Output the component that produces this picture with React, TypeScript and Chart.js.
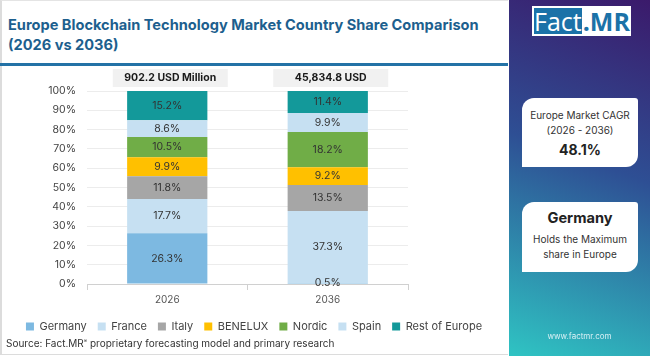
import React, { useEffect, useRef } from "react";
import { Chart, registerables } from "chart.js";

Chart.register(...registerables);

const categories = ["2026", "2036"];
const totals = ["902.2 USD Million", "45,834.8 USD"];
const seriesNames = ["Germany", "France", "Italy", "BENELUX", "Nordic", "Spain", "Rest of Europe"];
const germany = [26.3, 0.5];
const france = [17.7, 37.3];
const italy = [11.8, 13.5];
const benelux = [9.9, 9.2];
const nordic = [10.5, 18.2];
const spain = [8.6, 9.9];
const restOfEurope = [15.2, 11.4];
const yTicks = [0, 10, 20, 30, 40, 50, 60, 70, 80, 90, 100];
const colors = ["#7db9e1", "#c6e0f2", "#a6a6a6", "#ffc000", "#70ad47", "#c6e0f2", "#13999a"];

const FONT = "Inter, 'Open Sans', sans-serif";

const labelPlugin = {
  id: "segLabels",
  afterDatasetsDraw(chart: any) {
    const ctx = chart.ctx;
    ctx.save();
    ctx.font = `10.5px ${FONT}`;
    ctx.fillStyle = "#333";
    ctx.textAlign = "center";
    ctx.textBaseline = "middle";
    chart.data.datasets.forEach((ds: any, di: number) => {
      const meta = chart.getDatasetMeta(di);
      meta.data.forEach((bar: any, i: number) => {
        const v = ds.data[i];
        const y = (bar.y + bar.base) / 2;
        ctx.fillText(`${v}%`, bar.x, y);
      });
    });
    ctx.restore();
  },
};

const headerPlugin = {
  id: "headers",
  afterDraw(chart: any) {
    const ctx = chart.ctx;
    const xs = chart.scales.x;
    const top = chart.chartArea.top;
    ctx.save();
    totals.forEach((t, i) => {
      const cx = xs.getPixelForValue(i) + 3;
      const w = 115;
      ctx.fillStyle = "#f1f1f1";
      ctx.fillRect(cx - w / 2, top - 22, w, 18);
      ctx.fillStyle = "#1a1a1a";
      ctx.font = `bold 10.5px ${FONT}`;
      ctx.textAlign = "center";
      ctx.textBaseline = "middle";
      ctx.fillText(t, cx, top - 13);
    });
    ctx.restore();
  },
};

export default function App() {
  const ref = useRef<HTMLCanvasElement>(null);
  useEffect(() => {
    document.body.style.margin = "0";
    const values = [germany, france, italy, benelux, nordic, spain, restOfEurope];
    const chart = new Chart(ref.current!, {
      type: "bar",
      data: {
        labels: categories,
        datasets: seriesNames.map((n, i) => ({
          label: n,
          data: values[i],
          backgroundColor: colors[i],
          borderWidth: 0,
          barPercentage: 0.5,
          categoryPercentage: 1,
        })),
      },
      options: {
        animation: false,
        responsive: false,
        maintainAspectRatio: false,
        layout: { padding: { top: 25, right: 0, left: 0, bottom: 4 } },
        plugins: {
          legend: {
            position: "bottom",
            labels: {
              boxWidth: 8,
              boxHeight: 8,
              padding: 11,
              color: "#444",
              font: { family: FONT, size: 11 },
            },
          },
          tooltip: { enabled: false },
        },
        scales: {
          x: {
            stacked: true,
            grid: { offset: true, drawOnChartArea: false, tickLength: 6, color: "#d0d0d0" },
            border: { color: "#d0d0d0" },
            ticks: { color: "#555", font: { family: FONT, size: 10 }, padding: 4 },
          },
          y: {
            stacked: true,
            min: 0,
            max: 100,
            afterFit: (s: any) => {
              s.width = 87;
            },
            afterBuildTicks: (s: any) => {
              s.ticks = yTicks.map((v) => ({ value: v }));
            },
            grid: { color: "#ececec", drawTicks: false },
            border: { display: false },
            ticks: {
              autoSkip: false,
              color: "#444",
              font: { family: FONT, size: 10.5 },
              padding: 11,
              callback: (v: any) => `${v}%`,
            },
          },
          yR: {
            position: "right",
            display: true,
            afterFit: (s: any) => {
              s.width = 100;
            },
            grid: { display: false },
            border: { display: false },
            ticks: { display: false },
          },
        },
      },
      plugins: [labelPlugin, headerPlugin],
    });
    return () => chart.destroy();
  }, []);

  const card: React.CSSProperties = {
    position: "absolute",
    left: 522,
    width: 116,
    background: "#fff",
    borderRadius: "12px 3px 12px 0px",
    textAlign: "center",
    fontFamily: FONT,
    color: "#333",
  };

  return (
    <div style={{ position: "fixed", left: 0, top: 0, width: 650, height: 356, background: "#fff", overflow: "hidden", fontFamily: FONT }}>
      <div style={{ position: "absolute", left: 0, top: 0, width: 508, height: 355, borderLeft: "2px solid #dcdcdc", borderTop: "1px solid #e4e4e4", borderBottom: "1px solid #dcdcdc", boxSizing: "border-box" }} />
      <div style={{ position: "absolute", left: 8, top: 15, width: 500, fontWeight: 700, fontSize: 14.6, lineHeight: "20px", color: "#1d5f8e", whiteSpace: "nowrap" }}>
        Europe Blockchain Technology Market Country Share Comparison
        <br />
        (2026 vs 2036)
      </div>
      <div style={{ position: "absolute", left: 0, top: 63, width: 508, height: 3, background: "#2372a6" }} />
      <canvas ref={ref} width={508} height={280} style={{ position: "absolute", left: 0, top: 66, width: 508, height: 280 }} />
      <div style={{ position: "absolute", left: 6, top: 337, fontSize: 10, color: "#333", whiteSpace: "nowrap" }}>
        Source: Fact.MR<sup style={{ fontSize: 5 }}>®</sup> proprietary forecasting model and primary research
      </div>
      <div style={{ position: "absolute", left: 509, top: 0, width: 141, height: 356, background: "linear-gradient(200deg, #3b1a6b 0%, #2e4f94 45%, #2fc4c3 100%)" }} />
      <div style={{ position: "absolute", left: 532, top: 6, width: 99, height: 30, background: "#fff", boxSizing: "border-box", padding: 2, display: "flex" }}>
        <div style={{ background: "#1b72a8", color: "#fff", fontFamily: "'Open Sans', sans-serif", fontSize: 25, lineHeight: "26px", width: 50, textAlign: "center" }}>Fact</div>
        <div style={{ color: "#1b72a8", fontFamily: "'Open Sans', sans-serif", fontWeight: 700, fontSize: 25, lineHeight: "26px", paddingLeft: 1 }}>.MR</div>
      </div>
      <div style={{ ...card, top: 98, height: 69 }}>
        <div style={{ fontSize: 10, marginTop: 10, lineHeight: "15px" }}>Europe Market CAGR</div>
        <div style={{ fontSize: 10, lineHeight: "15px" }}>(2026 - 2036)</div>
        <div style={{ fontSize: 14, fontWeight: 700, color: "#222", marginTop: 3 }}>48.1%</div>
      </div>
      <div style={{ ...card, top: 202, height: 70 }}>
        <div style={{ fontSize: 14.6, fontWeight: 700, color: "#222", marginTop: 7 }}>Germany</div>
        <div style={{ fontSize: 10, marginTop: 5, lineHeight: "15px" }}>Holds the Maximum</div>
        <div style={{ fontSize: 10, lineHeight: "15px" }}>share in Europe</div>
      </div>
      <div style={{ position: "absolute", left: 509, width: 141, top: 331, textAlign: "center", fontSize: 8, color: "#d8f0f5" }}>www.factmr.com</div>
    </div>
  );
}
